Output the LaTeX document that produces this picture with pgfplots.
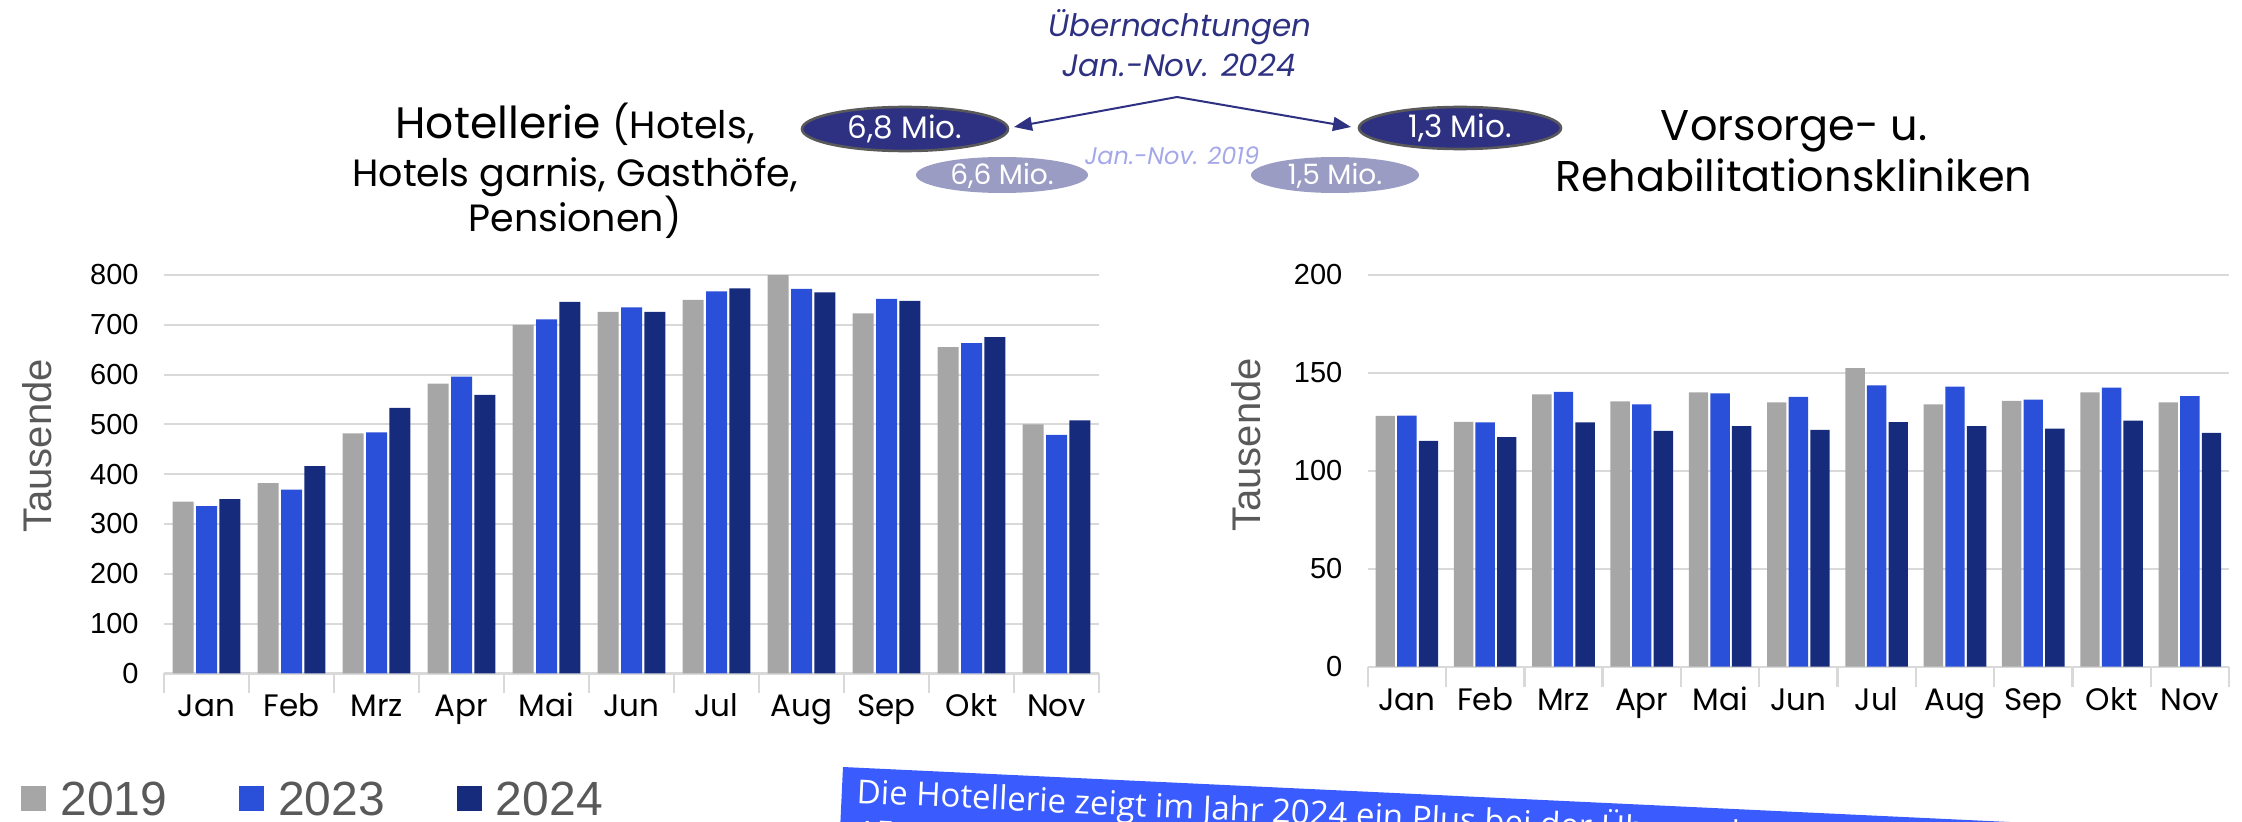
\documentclass[border=0pt]{standalone}
\usepackage{fontspec}
\setmainfont{Poppins}
\newfontfamily\arialf{Liberation Sans}
\newfontfamily\bannerf{Open Sans}
\usepackage{pgfplots}
\pgfplotsset{compat=1.18}
\usetikzlibrary{arrows.meta}
\definecolor{cgray}{HTML}{A6A6A6}
\definecolor{cblue}{HTML}{2A4FD9}
\definecolor{cnavy}{HTML}{172B7C}
\definecolor{gridc}{HTML}{D9D9D9}
\definecolor{ell}{HTML}{2E3182}
\definecolor{ellb}{HTML}{595959}
\definecolor{elll}{HTML}{9A9CC4}
\definecolor{lav}{HTML}{A5A8E8}
\definecolor{banner}{HTML}{3A5CFF}
\definecolor{labgray}{HTML}{595959}

\pgfplotsset{
 mybars/.style={
  scale only axis, ybar, xmin=-0.5, xmax=10.5, xtick={0,...,10},
  xticklabels={Jan,Feb,Mrz,Apr,Mai,Jun,Jul,Aug,Sep,Okt,Nov},
  minor xtick={-0.5,0.5,...,10.5},
  major tick length=0pt, minor tick length=10pt, tick align=center,
  minor tick style={draw=gridc, line width=1.2pt},
  major tick style={draw=none},
  ymajorgrids, grid style={draw=gridc, line width=1pt},
  axis lines*=left, y axis line style={draw=none},
  x axis line style={draw=gridc, line width=1.2pt},
  xticklabel style={font=\fontsize{15.5}{15.5}\selectfont, anchor=base, inner sep=0pt, yshift=-21.8pt},
  yticklabel style={font=\arialf\fontsize{14.5}{14.5}\selectfont, anchor=east, inner sep=0pt, xshift=-12.5pt},
  /pgf/number format/assume math mode=true,
  ylabel={Tausende},
  ylabel style={font=\arialf\fontsize{20}{20}\selectfont, text=labgray, anchor=center},
  clip=false,
 },
 lim/.style={legend image code/.code={\fill[##1] (0pt,-5.5pt) rectangle (12.5pt,7pt);}},
}

\begin{document}
\begin{tikzpicture}
\useasboundingbox (0,0) rectangle (1121pt,410.5pt);

\begin{axis}[mybars,
  at={(82pt,73.85pt)}, anchor=south west, width=467.5pt, height=199.15pt,
  ymin=0, ymax=800, ytick={0,100,...,800},
  bar width=10.5pt, ybar=1.2pt,
  ylabel style={at={(axis description cs:-0.1358,0.571)}},
  legend style={at={(axis description cs:0,0)}, anchor=west, xshift=-71.5pt, yshift=-63.35pt,
    draw=none, fill=none, inner sep=0pt, legend columns=3,
    font=\arialf\fontsize{24}{24}\selectfont, text=labgray, nodes={inner sep=0pt},
    /tikz/every odd column/.append style={column sep=7pt},
    /tikz/every even column/.append style={column sep=36pt}},
]
\addplot[fill=cgray, draw=none, lim] coordinates {(0,345) (1,382) (2,482) (3,582) (4,700) (5,726) (6,750) (7,800) (8,723) (9,655) (10,500)};
\addplot[fill=cblue, draw=none, lim] coordinates {(0,336) (1,369) (2,484) (3,596) (4,711) (5,735) (6,767) (7,772) (8,752) (9,663) (10,479)};
\addplot[fill=cnavy, draw=none, lim] coordinates {(0,350) (1,416) (2,533) (3,559) (4,746) (5,726) (6,773) (7,765) (8,748) (9,675) (10,508)};
\legend{2019,2023,2024}
\end{axis}

\begin{axis}[mybars,
  at={(683.85pt,77.15pt)}, anchor=south west, width=430.65pt, height=195.85pt,
  ymin=0, ymax=200, ytick={0,50,...,200},
  bar width=9.7pt, ybar=1.1pt,
  ylabel style={at={(axis description cs:-0.1413,0.566)}},
]
\addplot[fill=cgray, draw=none] coordinates {(0,128.1) (1,125) (2,139) (3,135.5) (4,140.1) (5,135) (6,152.4) (7,134) (8,135.7) (9,140.1) (10,135)};
\addplot[fill=cblue, draw=none] coordinates {(0,128.2) (1,124.8) (2,140.3) (3,134) (4,139.6) (5,137.8) (6,143.7) (7,143) (8,136.4) (9,142.5) (10,138.1)};
\addplot[fill=cnavy, draw=none] coordinates {(0,115.3) (1,117.2) (2,124.8) (3,120.4) (4,122.8) (5,120.9) (6,124.9) (7,122.8) (8,121.6) (9,125.7) (10,119.4)};
\end{axis}

\begin{scope}[shift={(0pt,410.5pt)}, x=0.5pt, y=-0.5pt]
% titles
\node[anchor=base, inner sep=0pt] at (575,139) {\fontsize{22}{22}\selectfont Hotellerie \fontsize{19}{19}\selectfont(Hotels,};
\node[anchor=base, inner sep=0pt] at (575,187) {\fontsize{19}{19}\selectfont Hotels garnis, Gasthöfe,};
\node[anchor=base, inner sep=0pt] at (575,232) {\fontsize{19}{19}\selectfont Pensionen)};
\node[anchor=base, inner sep=0pt] at (1794,141) {\fontsize{21.5}{21.5}\selectfont Vorsorge- u.};
\node[anchor=base, inner sep=0pt] at (1794,192) {\fontsize{21.5}{21.5}\selectfont Rehabilitationskliniken};
% top annotation
\node[anchor=base, inner sep=0pt, text=ell, font=\itshape\fontsize{15.5}{15.5}\selectfont] at (1180,37) {Übernachtungen};
\node[anchor=base, inner sep=0pt, text=ell, font=\itshape\fontsize{15.5}{15.5}\selectfont] at (1179,77) {Jan.-Nov. 2024};
\draw[ell, line width=1pt, -{Triangle[length=9pt,width=7pt]}] (1177,97) -- (1014,127);
\draw[ell, line width=1pt, -{Triangle[length=9pt,width=7pt]}] (1177,97) -- (1351,127);
\fill[elll] (1002,175) ellipse [x radius=43pt, y radius=9pt];
\fill[elll] (1335,175) ellipse [x radius=42pt, y radius=9pt];
\draw[fill=ell, draw=ellb, line width=1.3pt] (905,129) ellipse [x radius=51.5pt, y radius=11pt];
\draw[fill=ell, draw=ellb, line width=1.3pt] (1460,128) ellipse [x radius=50.5pt, y radius=10.5pt];
\node[text=white, font=\fontsize{15.5}{15.5}\selectfont] at (905,129) {6,8 Mio.};
\node[text=white, font=\fontsize{15.5}{15.5}\selectfont] at (1460,128) {1,3 Mio.};
\node[text=white, font=\fontsize{14}{14}\selectfont] at (1002,176) {6,6 Mio.};
\node[text=white, font=\fontsize{14}{14}\selectfont] at (1335,176) {1,5 Mio.};
\node[anchor=base, inner sep=0pt, text=lav, font=\itshape\fontsize{12}{12}\selectfont] at (1172,165) {Jan.-Nov. 2019};
% banner
\begin{scope}
\clip (0,0) rectangle (2242,821);
\fill[banner, rotate around={-2.7:(843,767)}] (843,767) rectangle (2700,1100);
\node[rotate=-2.7, anchor=base west, inner sep=0pt, text=white, font=\bannerf\fontsize{16.5}{20}\selectfont] at (856,803) {Die Hotellerie zeigt im Jahr 2024 ein Plus bei der Übernachtungen};
\node[rotate=-2.7, anchor=base west, inner sep=0pt, text=white, font=\bannerf\fontsize{16.5}{20}\selectfont] at (856,844) {15,8\,\% mehr};
\end{scope}
\end{scope}
\end{tikzpicture}
\end{document}
